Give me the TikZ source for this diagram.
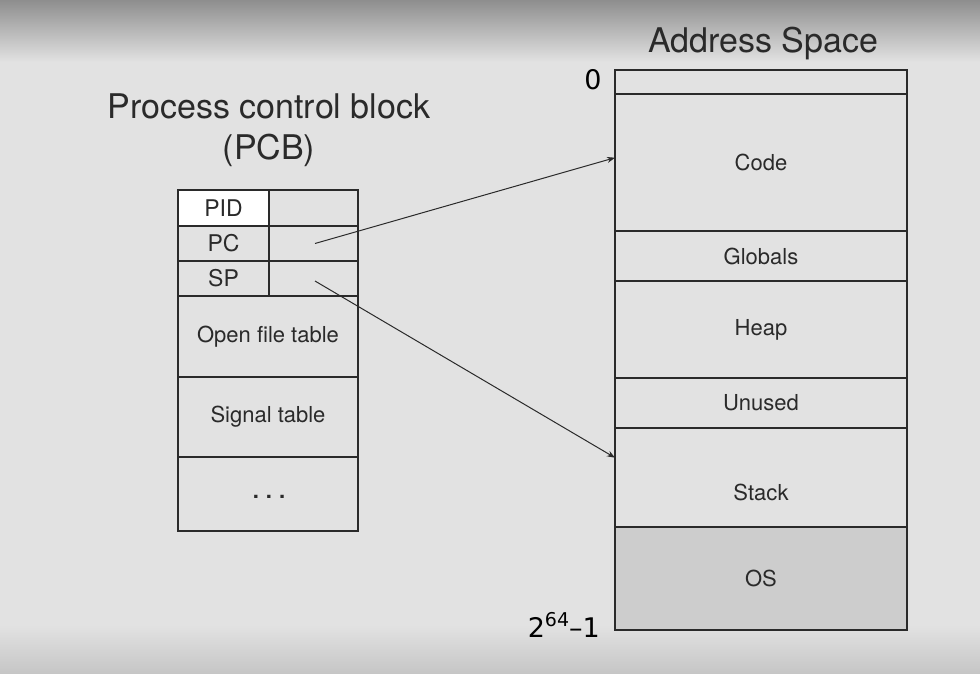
\documentclass[tikz,border=0pt]{standalone}
\usepackage{fontspec}
\setmainfont{TeX Gyre Heros}
\newfontfamily\numfont{DejaVu Sans}
\usetikzlibrary{arrows.meta,calc}
\definecolor{bgmain}{HTML}{E2E2E2}
\definecolor{bgtop}{HTML}{8E8E8E}
\definecolor{bgbot}{HTML}{C6C6C6}
\definecolor{ink}{HTML}{2A2A2A}
\definecolor{osfill}{HTML}{CDCDCD}
\begin{document}
\begin{tikzpicture}[x=1pt,y=-1pt,
  cell/.style={draw=ink, line width=1.4pt, rectangle, inner sep=0pt, outer sep=0pt, anchor=north west, text=ink},
  celltext/.style={font=\fontsize{22}{25}\selectfont},
  pcbtext/.style={font=\fontsize{23}{26}\selectfont},
  title/.style={text=ink, font=\fontsize{34}{41}\selectfont, align=center},
  ptr/.style={draw=ink, line width=1pt, -{Stealth[length=8pt,width=6pt]}},
  numlbl/.style={text=black, font=\numfont\fontsize{27}{30}\selectfont}
]
\useasboundingbox (0,0) rectangle (980,673);
% background
\fill[bgmain] (0,0) rectangle (980,673);
\shade[top color=bgtop, bottom color=bgmain] (0,0) rectangle (980,62);
\shade[top color=bgmain, bottom color=bgbot] (0,625) rectangle (980,673);

% titles
\node[title] (pcbtitle) at (269,130) {Process control block\\(PCB)};
\node[title] (astitle) at (763,44) {Address Space};

% PCB
\node[cell, fill=white, pcbtext, minimum width=91pt, minimum height=36pt] (pid) at (178,190) {PID};
\node[cell, minimum width=89pt, minimum height=36pt] (pidv) at (269,190) {};
\node[cell, pcbtext, minimum width=91pt, minimum height=35pt] (pc) at (178,226) {PC};
\node[cell, minimum width=89pt, minimum height=35pt] (pcv) at (269,226) {};
\node[cell, pcbtext, minimum width=91pt, minimum height=35pt] (sp) at (178,261) {SP};
\node[cell, minimum width=89pt, minimum height=35pt] (spv) at (269,261) {};
\node[cell, celltext, minimum width=180pt, minimum height=81pt] (oft) at (178,296) {Open file table};
\node[cell, celltext, minimum width=180pt, minimum height=80pt] (sig) at (178,377) {Signal table};
\node[cell, minimum width=180pt, minimum height=74pt] (more) at (178,457) {};
\node[text=ink, font=\bfseries\fontsize{22}{25}\selectfont] (dots) at (269,497) {.\kern7pt.\kern7pt.};

% Address space
\node[cell, minimum width=292pt, minimum height=24pt] (top) at (615,70) {};
\node[cell, celltext, minimum width=292pt, minimum height=137pt] (code) at (615,94) {Code};
\node[cell, celltext, minimum width=292pt, minimum height=50pt] (globals) at (615,231) {Globals};
\node[cell, celltext, minimum width=292pt, minimum height=97pt] (heap) at (615,281) {Heap};
\node[cell, celltext, minimum width=292pt, minimum height=50pt] (unused) at (615,378) {Unused};
\node[cell, minimum width=292pt, minimum height=99pt] (stack) at (615,428) {};
\node[text=ink, celltext] (stacklbl) at (761,492) {Stack};
\node[cell, celltext, fill=osfill, minimum width=292pt, minimum height=103pt] (os) at (615,527) {OS};

% address labels
\node[numlbl] (zero) at (593,80) {0};
\node[numlbl, anchor=base east, inner sep=0pt] (maxaddr) at (600,637) {2\raisebox{0.4em}{\fontsize{19}{20}\selectfont 64}–1};

% pointers
\coordinate (pcend) at ($(code.north west)!0.465!(code.south west)$);
\coordinate (spend) at ($(stack.north west)!0.30!(stack.south west)$);
\draw[ptr] ($(pcv.center)+(1.5,0)$) -- (pcend);
\draw[ptr] ($(spv.center)+(1.5,2.5)$) -- (spend);
\end{tikzpicture}
\end{document}
